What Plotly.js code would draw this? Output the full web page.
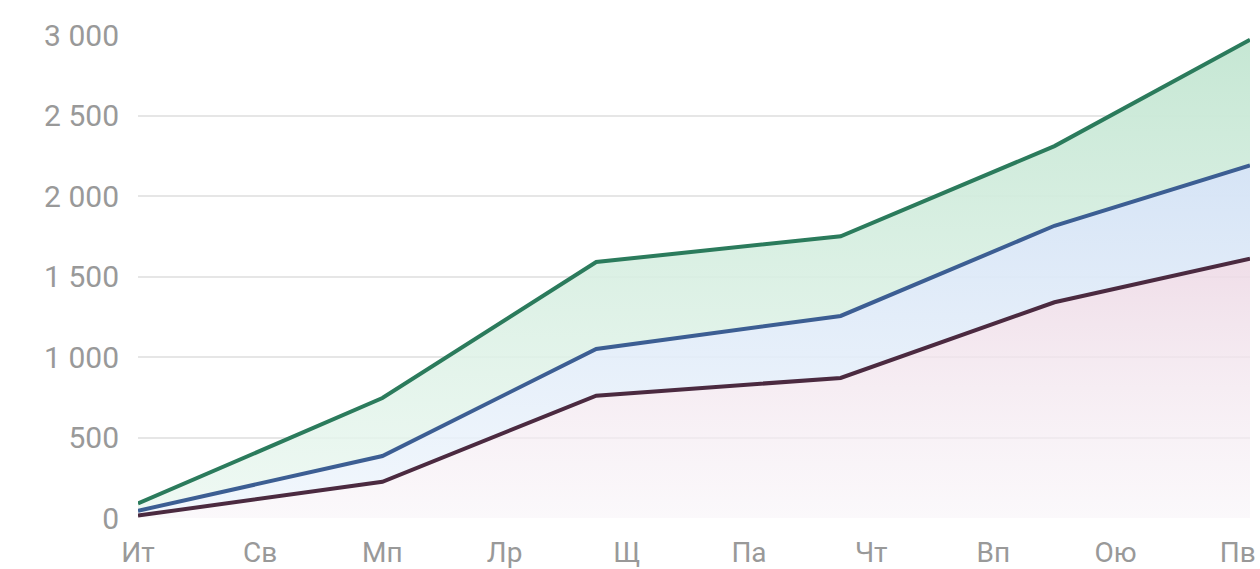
<!DOCTYPE html>
<html>
<head>
<meta charset="utf-8">
<script src="https://cdn.plot.ly/plotly-3.0.1.min.js"></script>
<style>html,body{margin:0;padding:0;background:#fff;}#chart{width:1260px;height:569px;}</style>
</head>
<body>
<div id="chart"></div>
<script>
// Category tick labels (as shown in the reference)
const categories = ['Ит', 'Св', 'Мп', 'Лр', 'Щ', 'Па', 'Чт', 'Вп', 'Ою', 'Пв'];
const tickPositions = [0, 1, 2, 3, 4, 5, 6, 7, 8, 9];
// x positions (in category units) of the vertices
const pointX = [0, 2, 3.75, 5.75, 7.5, 9.1];
// series values
const seriesBottom = [15, 225, 760, 870, 1340, 1610];
const seriesMiddle = [45, 385, 1050, 1255, 1815, 2190];
const seriesTop = [90, 745, 1590, 1750, 2310, 2970];
const yTicks = [0, 500, 1000, 1500, 2000, 2500, 3000];
const yTickText = ['0', '500', '1 000', '1 500', '2 000', '2 500', '3 000'];

const traces = [
  {
    x: pointX, y: seriesBottom, type: 'scatter', mode: 'lines',
    line: {color: '#4b2a40', width: 4},
    fill: 'tozeroy',
    fillgradient: {type: 'vertical', colorscale: [[0, 'rgba(248,244,248,0.6)'], [1, 'rgba(238,218,230,0.9)']]},
    hoverinfo: 'skip'
  },
  {
    x: pointX, y: seriesMiddle, type: 'scatter', mode: 'lines',
    line: {color: '#3c5e93', width: 4},
    fill: 'tonexty',
    fillgradient: {type: 'vertical', colorscale: [[0, 'rgba(238,245,252,0.8)'], [1, 'rgba(214,228,246,1)']]},
    hoverinfo: 'skip'
  },
  {
    x: pointX, y: seriesTop, type: 'scatter', mode: 'lines',
    line: {color: '#2b7b5c', width: 4},
    fill: 'tonexty',
    fillgradient: {type: 'vertical', colorscale: [[0, 'rgba(234,247,240,0.8)'], [1, 'rgba(198,231,212,1)']]},
    hoverinfo: 'skip'
  }
];

const layout = {
  width: 1260, height: 569,
  margin: {l: 138, r: 10, t: 35, b: 51},
  paper_bgcolor: '#ffffff', plot_bgcolor: '#ffffff',
  showlegend: false,
  font: {family: 'Roboto, sans-serif', color: '#999999', size: 28},
  xaxis: {
    type: 'linear', range: [0, 9.1],
    tickmode: 'array', tickvals: tickPositions, ticktext: categories,
    showgrid: false, zeroline: false, showline: false, ticks: '',
    ticklabelstandoff: 15,
    tickfont: {size: 28, color: '#999999'}
  },
  yaxis: {
    range: [0, 3000],
    tickmode: 'array', tickvals: yTicks, ticktext: yTickText,
    showgrid: true, gridcolor: '#e6e6e6', gridwidth: 2,
    zeroline: false, showline: false, ticks: '',
    ticklabelstandoff: 18,
    tickfont: {size: 30, color: '#999999'}
  }
};

Plotly.newPlot('chart', traces, layout, {displayModeBar: false, staticPlot: true});
</script>
</body>
</html>
